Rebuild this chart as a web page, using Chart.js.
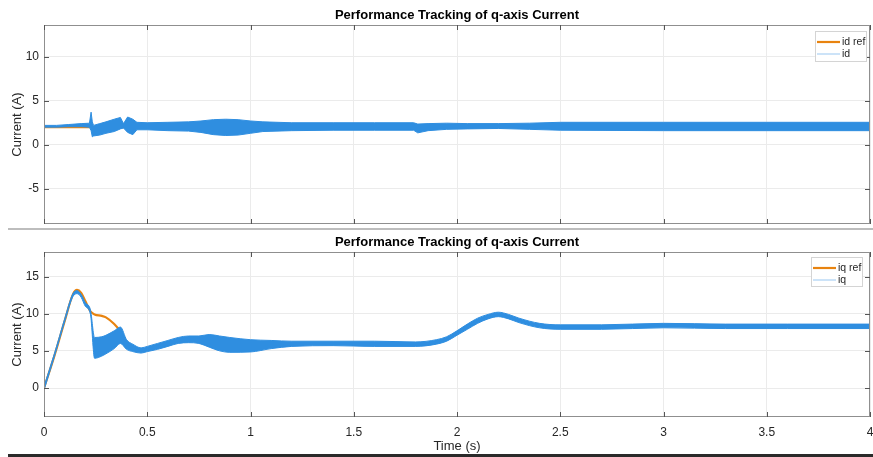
<!DOCTYPE html>
<html>
<head>
<meta charset="utf-8">
<script src="https://cdn.jsdelivr.net/npm/chart.js@4.4.1/dist/chart.umd.min.js"></script>
<style>
  html, body { margin: 0; padding: 0; background: #fff; }
  #wrap { position: relative; width: 873px; height: 457px; overflow: hidden; background: #fff; }
  #topChart { position: absolute; left: 0; top: 0; }
  #botChart { position: absolute; left: 0; top: 230px; }
  .sep { position: absolute; left: 8px; right: 0; top: 228px; height: 2px; background: #bdbdbd; }
  .bar { position: absolute; left: 8px; right: 0; top: 454px; height: 3px; background: #2a2a2a; }
</style>
</head>
<body>
<div id="wrap">
  <canvas id="topChart" width="873" height="228"></canvas>
  <div class="sep"></div>
  <canvas id="botChart" width="873" height="223"></canvas>
  <div class="bar"></div>
</div>
<script>
// --- TICKS ---
const xTicks = [0, 0.5, 1, 1.5, 2, 2.5, 3, 3.5, 4];
const yTicksTop = [-5, 0, 5, 10];
const yTicksBottom = [0, 5, 10, 15];

// --- id (top plot): reference and the upper / lower edge of the ripple band ---
const tD = [0, 0.06, 0.12, 0.18, 0.22, 0.228, 0.234, 0.24, 0.27, 0.30, 0.34, 0.37, 0.385, 0.405, 0.43, 0.45,
            0.50, 0.60, 0.70, 0.76, 0.82, 0.88, 0.94, 1.00, 1.06, 1.20, 1.40, 1.60, 1.79, 1.81, 1.86, 1.95,
            2.05, 2.20, 2.35, 2.50, 3.00, 3.50, 4.00];
const idRef = [2, 2, 2, 2, 2, 2, 2, 2, 2, 2, 2, 2, 2, 2, 2, 2, 2, 2, 2, 2, 2, 2, 2, 2, 2, 2, 2, 2, 2, 2,
               2, 2, 2, 2, 2, 2, 2, 2, 2];
const idHigh = [2.2, 2.2, 2.3, 2.4, 2.45, 3.7, 2.6, 2.2, 2.4, 2.6, 2.9, 3.1, 2.4, 3.15, 2.9, 2.55,
                2.5, 2.55, 2.6, 2.7, 2.85, 2.9, 2.85, 2.7, 2.6, 2.5, 2.5, 2.5, 2.5, 2.35, 2.4, 2.45,
                2.4, 2.4, 2.45, 2.55, 2.55, 2.55, 2.55];
const idLow = [2.0, 2.0, 2.05, 2.05, 2.0, 1.6, 0.9, 1.0, 1.1, 1.3, 1.5, 1.8, 1.9, 1.4, 1.15, 1.7,
               1.7, 1.6, 1.55, 1.4, 1.15, 1.05, 1.1, 1.3, 1.5, 1.6, 1.65, 1.65, 1.65, 1.35, 1.6, 1.75,
               1.8, 1.85, 1.75, 1.65, 1.6, 1.6, 1.6];

// --- iq (bottom plot) ---
const tQ = [0, 0.05, 0.10, 0.14, 0.16, 0.18, 0.20, 0.225, 0.245, 0.28, 0.30, 0.34, 0.37, 0.40, 0.43, 0.47,
            0.50, 0.55, 0.60, 0.65, 0.70, 0.75, 0.80, 0.85, 0.90, 1.00, 1.10, 1.20, 1.40, 1.60, 1.80,
            1.90, 1.95, 2.00, 2.05, 2.10, 2.15, 2.20, 2.25, 2.30, 2.40, 2.50, 2.70, 3.00, 3.30, 3.60, 4.00];
const iqRef = [0, 4.3, 9.0, 12.6, 13.2, 12.8, 11.7, 10.3, 9.9, 9.7, 9.5, 8.6, 7.6, 6.1, 5.3, 5.1,
               5.25, 5.6, 6.0, 6.4, 6.55, 6.5, 6.35, 6.0, 5.8, 5.7, 5.85, 5.95, 6.0, 5.95, 5.9,
               6.2, 6.6, 7.4, 8.25, 9.05, 9.6, 9.9, 9.6, 9.1, 8.4, 8.2, 8.2, 8.4, 8.3, 8.3, 8.3];
const iqHigh = [0.2, 4.6, 9.3, 12.7, 13.1, 12.6, 11.5, 10.5, 6.8, 6.9, 7.1, 7.7, 8.2, 6.5, 5.9, 5.4,
                5.6, 6.0, 6.4, 6.8, 7.0, 7.0, 7.2, 7.0, 6.8, 6.5, 6.4, 6.3, 6.3, 6.3, 6.2,
                6.5, 6.9, 7.7, 8.6, 9.4, 9.9, 10.2, 9.9, 9.4, 8.7, 8.5, 8.5, 8.7, 8.6, 8.6, 8.6];
const iqLow = [-0.3, 4.2, 8.9, 12.3, 12.7, 12.2, 11.0, 9.9, 4.0, 4.3, 4.6, 5.3, 6.0, 5.2, 4.9, 4.7,
               4.9, 5.2, 5.6, 6.0, 6.1, 6.0, 5.5, 5.0, 4.8, 4.85, 5.3, 5.6, 5.7, 5.6, 5.6,
               5.9, 6.3, 7.1, 7.9, 8.7, 9.3, 9.6, 9.3, 8.8, 8.1, 7.9, 7.9, 8.1, 8.0, 8.0, 8.0];

// --- STYLE ---
const BLUE = '#2f8ee0';
const ORANGE = '#e8830f';
const FONT = "'Liberation Sans', Arial, Helvetica, sans-serif";
Chart.defaults.font.family = FONT;
Chart.defaults.color = '#262626';

const pts = (t, v) => t.map((x, i) => ({ x: x, y: v[i] }));

// box, inward ticks, title and legend drawn the MATLAB way
const matlabPlugin = {
    id: 'matlab',
    afterDatasetsDraw(chart, args, opts) {
        const { ctx, chartArea: a, scales: { x, y } } = chart;
        ctx.save();
        ctx.strokeStyle = '#8f8f8f';
        ctx.lineWidth = 1;
        ctx.strokeRect(a.left + 0.5, a.top + 0.5, a.right - a.left - 1, a.bottom - a.top - 1);
        ctx.strokeStyle = '#555';
        ctx.beginPath();
        x.ticks.forEach(t => {
            const px = Math.round(x.getPixelForValue(t.value)) + 0.5;
            ctx.moveTo(px, a.top); ctx.lineTo(px, a.top + 5);
            ctx.moveTo(px, a.bottom); ctx.lineTo(px, a.bottom - 5);
        });
        y.ticks.forEach(t => {
            const py = Math.round(y.getPixelForValue(t.value)) + 0.5;
            ctx.moveTo(a.left, py); ctx.lineTo(a.left + 5, py);
            ctx.moveTo(a.right, py); ctx.lineTo(a.right - 5, py);
        });
        ctx.stroke();
        ctx.restore();
    },
    afterDraw(chart, args, opts) {
        const { ctx, chartArea: a } = chart;
        ctx.save();
        // title
        ctx.font = 'bold 13px ' + FONT;
        ctx.fillStyle = '#000';
        ctx.textAlign = 'center';
        ctx.textBaseline = 'middle';
        ctx.fillText(opts.title, (a.left + a.right) / 2, opts.titleY);
        // legend
        const lg = opts.legend;
        ctx.fillStyle = '#fff';
        ctx.fillRect(lg.x, lg.y, lg.w, lg.h);
        ctx.strokeStyle = '#d4d4d4';
        ctx.lineWidth = 1;
        ctx.strokeRect(lg.x + 0.5, lg.y + 0.5, lg.w - 1, lg.h - 1);
        ctx.font = '10.5px ' + FONT;
        ctx.textAlign = 'left';
        lg.items.forEach((it, i) => {
            const yy = lg.y + lg.row0 + i * lg.rowGap;
            ctx.strokeStyle = it.color;
            ctx.lineWidth = it.width;
            ctx.beginPath();
            ctx.moveTo(lg.x + 2, yy);
            ctx.lineTo(lg.x + 25, yy);
            ctx.stroke();
            ctx.fillStyle = '#262626';
            ctx.fillText(it.label, lg.x + 27, yy);
        });
        ctx.restore();
    }
};

function makeChart(id, t, ref, hi, lo, names, cfg) {
    return new Chart(document.getElementById(id), {
        type: 'line',
        data: {
            datasets: [
                { label: names[0], data: pts(t, ref), borderColor: ORANGE, borderWidth: 2.2,
                  pointRadius: 0, fill: false, order: 3, cubicInterpolationMode: cfg.interp },
                { label: names[1], data: pts(t, hi), borderColor: BLUE, borderWidth: 1,
                  pointRadius: 0, fill: false, order: 1, cubicInterpolationMode: cfg.interp },
                { label: names[1] + ' low', data: pts(t, lo), borderColor: BLUE, borderWidth: 1,
                  backgroundColor: BLUE, pointRadius: 0, fill: '-1', order: 2, cubicInterpolationMode: cfg.interp }
            ]
        },
        options: {
            responsive: false,
            animation: false,
            events: [],
            layout: { padding: cfg.padding },
            plugins: {
                legend: { display: false },
                tooltip: { enabled: false },
                matlab: {
                    title: 'Performance Tracking of q-axis Current',
                    titleY: cfg.titleY,
                    legend: {
                        x: cfg.legendBox[0], y: cfg.legendBox[1], w: cfg.legendBox[2], h: cfg.legendBox[3],
                        row0: 11, rowGap: 12,
                        items: [
                            { label: names[0], color: ORANGE, width: 2.2 },
                            { label: names[1], color: '#a9d0f3', width: 1.2 }
                        ]
                    }
                }
            },
            scales: {
                x: {
                    type: 'linear', min: 0, max: 4,
                    afterBuildTicks: s => { s.ticks = xTicks.map(v => ({ value: v })); },
                    afterFit: s => { s.height = cfg.xHeight; s.paddingLeft = 0; s.paddingRight = 0; },
                    grid: { color: '#ebebeb', drawTicks: false },
                    border: { display: false },
                    ticks: { display: cfg.showX, padding: 8, maxRotation: 0, font: { size: 12 },
                             callback: v => String(v) },
                    title: { display: cfg.showX, text: 'Time (s)', font: { size: 13 }, padding: { top: 0, bottom: -1 } }
                },
                y: {
                    min: cfg.yMin, max: cfg.yMax,
                    afterBuildTicks: s => { s.ticks = cfg.yTicks.map(v => ({ value: v })); },
                    afterFit: s => { s.width = 44; s.paddingTop = 0; s.paddingBottom = 0; },
                    grid: { color: '#ebebeb', drawTicks: false },
                    border: { display: false },
                    ticks: { padding: 5, font: { size: 12 }, callback: v => String(v) },
                    title: { display: true, text: 'Current (A)', font: { size: 13 }, padding: { top: 10, bottom: 0 } }
                }
            }
        },
        plugins: [matlabPlugin]
    });
}

makeChart('topChart', tD, idRef, idHigh, idLow, ['id ref', 'id'], {
    interp: 'default', padding: { left: 0, right: 3, top: 25, bottom: 4 },
    xHeight: 0, showX: false, yMin: -9, yMax: 13.6, yTicks: yTicksTop,
    titleY: 15, legendBox: [815, 31, 52, 31]
});

makeChart('botChart', tQ, iqRef, iqHigh, iqLow, ['iq ref', 'iq'], {
    interp: 'monotone', padding: { left: 0, right: 3, top: 22, bottom: 0 },
    xHeight: 36, showX: true, yMin: -3.9, yMax: 18.3, yTicks: yTicksBottom,
    titleY: 12, legendBox: [811, 27, 52, 30]
});
</script>
</body>
</html>
